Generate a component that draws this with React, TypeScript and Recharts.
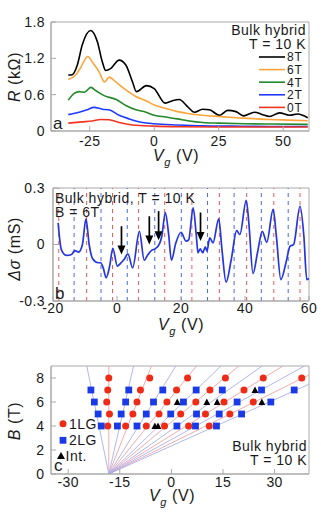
import React from 'react';
import {
  LineChart,
  Line,
  ScatterChart,
  Scatter,
  XAxis,
  YAxis,
  ReferenceArea,
  ReferenceLine,
  Legend,
} from 'recharts';

const FONT = '"Liberation Sans", Arial, Helvetica, sans-serif';
const GRAY = '#a9a9a9';
const INK = '#1a1a1a';
const W = 321;

// ---- panel a: R(Vg) at T = 10 K for several fields ----
const vg8T = [-33.3, -31.8, -29.8, -27.9, -24.6, -22, -20.1, -18.8, -16.9, -13.6, -11, -8.4, -6.9, -3, 0, 4.3, 7.1, 9.7, 13, 15.6, 18.8, 21.4, 25.3, 28.5, 31.7, 34.6, 38.9, 42, 44.7, 48.6, 52.4, 55.6, 59.5];
const r8T = [0.925, 0.93, 1.09, 1.42, 1.66, 1.47, 1.14, 1.0, 1.03, 1.17, 1.09, 0.81, 0.65, 0.75, 0.7, 0.46, 0.5, 0.52, 0.4, 0.31, 0.36, 0.35, 0.26, 0.34, 0.32, 0.25, 0.31, 0.27, 0.24, 0.3, 0.26, 0.28, 0.22];
const vg6T = [-33.3, -30.5, -28.6, -25.7, -24, -21.4, -19.2, -17.5, -14.9, -11, -7.1, -3.2, 0, 4.5, 9, 13, 18.8, 25, 31.7, 38, 44.7, 52, 59.5];
const r6T = [0.85, 0.92, 1.04, 1.23, 1.14, 0.98, 0.81, 0.89, 0.81, 0.68, 0.57, 0.5, 0.43, 0.37, 0.32, 0.29, 0.26, 0.24, 0.22, 0.205, 0.19, 0.18, 0.17];
const vg4T = [-33.3, -31, -29.1, -27, -24.6, -22.4, -19.2, -14.7, -11, -7.1, -3.2, 0, 4.5, 9, 13, 18.8, 25, 35, 45, 59.5];
const r4T = [0.51, 0.62, 0.65, 0.64, 0.72, 0.66, 0.58, 0.52, 0.42, 0.35, 0.31, 0.26, 0.23, 0.2, 0.17, 0.14, 0.13, 0.12, 0.115, 0.11];
const vg2T = [-33.3, -29.1, -26, -23.4, -20.1, -17.5, -13.6, -9.7, -4.5, 0, 9, 18.8, 30, 45, 59.5];
const r2T = [0.27, 0.31, 0.35, 0.39, 0.36, 0.35, 0.26, 0.2, 0.14, 0.12, 0.1, 0.085, 0.08, 0.075, 0.075];
const vg0T = [-33.3, -27.9, -24, -20.8, -17.5, -13.6, -8.4, 0, 10, 25, 40, 59.5];
const r0T = [0.13, 0.15, 0.165, 0.19, 0.185, 0.14, 0.1, 0.08, 0.07, 0.065, 0.065, 0.065];
const fieldLabels = ['8T', '6T', '4T', '2T', '0T'];
const fieldColors = ['#000000', '#ffa43a', '#23892a', '#1f3bff', '#f2331f'];
const vgTicksA = [-25, 0, 25, 50];
const rTicksA = [0, 0.6, 1.2, 1.8];

// ---- panel b: delta sigma at B = 6T ----
const vgB = [-18.4, -17.4, -15.8, -14.2, -13.2, -12, -10.8, -9.7, -8.7, -7.6, -5.9, -5.1, -4.3, -3.4, -2.3, -1.3, 0.1, 1.1, 2.2, 3.4, 4.9, 7, 8.5, 9.7, 10.9, 11.9, 13.3, 14, 15.1, 16.1, 17, 18.4, 20, 21.6, 22.4, 23.8, 24.8, 25.3, 26, 26.8, 27.6, 28.1, 29, 30, 31.8, 32.8, 34.1, 35.7, 37.4, 38.4, 40.4, 41.2, 42.5, 43.9, 45.4, 46.8, 48.8, 49.8, 51.2, 52.8, 54.1, 55.2, 57.2, 58.4, 59.3, 60];
const dSigmaB = [0.115, -0.027, -0.058, -0.053, -0.032, -0.04, 0, 0.136, 0, -0.076, -0.097, -0.097, -0.124, -0.177, -0.115, -0.02, -0.115, -0.1, -0.08, -0.05, -0.124, 0.07, -0.083, -0.053, -0.03, -0.023, 0.005, 0.044, 0.17, 0.06, -0.083, 0.009, 0.065, 0.018, 0.025, 0.195, 0.044, -0.044, -0.023, -0.044, -0.012, -0.035, 0.035, 0.009, 0.136, -0.027, -0.2, -0.08, 0.074, 0.053, 0.235, 0.115, -0.154, -0.044, 0.07, 0.012, 0.186, 0.044, -0.186, -0.097, -0.009, 0, 0.203, 0.044, -0.186, -0.18];
const redMarksB = [-18.2, -9.5, -1.4, 6.7, 14.9, 23.4, 32.0, 40.5, 49.0, 57.2];
const blueMarksB = [-13.4, -5.0, 3.2, 11.8, 20.1, 28.3, 36.6, 45.1, 53.5];
const arrowVg = [1.4, 10.1, 13.0, 26.1];
const arrowTop = [0.097, 0.15, 0.177, 0.17];
const arrowTip = [-0.053, 0, 0.023, 0.018];
const vgTicksB = [-20, 0, 20, 40, 60];
const sTicksB = [-0.3, 0, 0.3];

// ---- panel c: fan diagram ----
const fanOriginVg = -18.2;
const fanRedTopVg = [-18.2, -5.8, 7.3, 19.6, 32.4, 45.3]; // Vg where each line meets B = 9 T
const fanBlueTopVg = [-24.6, -11.0, 1.3, 14.4, 26.4, 38.7, 51.8];
const oneLG_B8 = [-18.2, -6.3, 4.7, 15.7, 26.7, 37.9];
const oneLG_B7 = [-18.5, -9.0, 1.5, 11.2, 21.1];
const oneLG_B6 = [-18.8, -10.0, -1.3, 7.1, 15.3, 23.8];
const oneLG_B5 = [-18.0, -11.2, -3.6, 2.7, 9.9, 17.0];
const oneLG_B4 = [-18.5, -13.3, -7.3, -2.0, 5.0, 11.0];
const twoLG_B7 = [-23.4, -12.4, -2.5, 7.2, 14.8, 26.2, 35.7];
const twoLG_B6 = [-22.4, -13.3, -5.2, 3.5, 19.1, 28.9];
const twoLG_B5 = [-21.3, -14.6, -7.3, -0.2, 7.3, 13.9, 20.4];
const twoLG_B4 = [-20.4, -15.7, -10.0, 1.6, 7.0, 13.1];
const int_B7 = [24.3];
const int_B6 = [1.7, 10.3, 13.3, 26.3];
const int_B4 = [-4.8, -3.9];
const vgTicksC = [-30, -15, 0, 15, 30];
const bTicksC = [0, 2, 4, 6, 8];

const zip = (xs: number[], ys: number[]) => xs.map((v, i) => ({ v, y: ys[i] }));
const rows = (list: [number, number[]][]) =>
  list.flatMap(([b, vs]) => vs.map((v) => ({ v, b })));

const seriesA = [
  zip(vg8T, r8T),
  zip(vg6T, r6T),
  zip(vg4T, r4T),
  zip(vg2T, r2T),
  zip(vg0T, r0T),
];
const dataB = zip(vgB, dSigmaB);
const oneLG = rows([[8, oneLG_B8], [7, oneLG_B7], [6, oneLG_B6], [5, oneLG_B5], [4, oneLG_B4]]);
const twoLG = rows([[7, twoLG_B7], [6, twoLG_B6], [5, twoLG_B5], [4, twoLG_B4]]);
const intPts = rows([[7, int_B7], [6, int_B6], [4, int_B4]]);

const tickStyle = { fontSize: 14, fill: INK, fontFamily: FONT, letterSpacing: 0.4 };

const RED_DOT = '#ee2b16';
const BLUE_SQ = '#1a3ae8';

const Circle = (p: any) => <circle cx={p.cx} cy={p.cy} r={3.5} fill={RED_DOT} />;
const Square = (p: any) => <rect x={p.cx - 3.4} y={p.cy - 3.4} width={6.8} height={6.8} fill={BLUE_SQ} />;
const Tri = (p: any) => (
  <polygon points={`${p.cx - 3.4},${p.cy + 3} ${p.cx + 3.4},${p.cy + 3} ${p.cx},${p.cy - 3.4}`} fill="#000" />
);

const Arrow = (p: any) => {
  const { x1, y1, x2, y2 } = p;
  return (
    <g>
      <line x1={x1} y1={y1} x2={x2} y2={y2 - 7} stroke="#000" strokeWidth={1.7} />
      <polygon points={`${x2 - 4},${y2 - 9} ${x2 + 4},${y2 - 9} ${x2},${y2}`} fill="#000" />
    </g>
  );
};

const LegendA = () => (
  <svg width={60} height={66} style={{ display: 'block', overflow: 'visible' }}>
    {fieldLabels.map((lab, i) => (
      <g key={lab}>
        <line x1={0} x2={26} y1={5 + i * 12.6} y2={5 + i * 12.6} stroke={fieldColors[i]} strokeWidth={1.6} />
        <text x={28} y={5 + i * 12.6} dy="0.36em" fontSize={12} fill={INK} fontFamily={FONT} letterSpacing={0.8}>
          {lab}
        </text>
      </g>
    ))}
  </svg>
);

const LegendC = () => (
  <svg width={60} height={52} style={{ display: 'block', overflow: 'visible' }}>
    <circle cx={7} cy={9.7} r={3.5} fill={RED_DOT} />
    <text x={13} y={9.7} dy="0.36em" fontSize={14} fill={INK} fontFamily={FONT} letterSpacing={0.5}>1LG</text>
    <rect x={3.6} y={22.9} width={6.8} height={6.8} fill={BLUE_SQ} />
    <text x={13} y={26.3} dy="0.36em" fontSize={14} fill={INK} fontFamily={FONT} letterSpacing={0.5}>2LG</text>
    <polygon points="1,45 9,45 5,38" fill="#000" />
    <text x={9.5} y={42} dy="0.36em" fontSize={14} fill={INK} fontFamily={FONT} letterSpacing={0.5}>Int.</text>
  </svg>
);

const VgTitle = ({ x, y }: { x: number; y: number }) => (
  <text x={x} y={y} textAnchor="middle" fontSize={16} letterSpacing={0.6}>
    <tspan fontStyle="italic">V</tspan>
    <tspan fontSize={11} dy={5} fontStyle="italic">g</tspan>
    <tspan dy={-5}>{' (V)'}</tspan>
  </text>
);

export default function App() {
  return (
    <div style={{ position: 'absolute', left: 0, top: 0, width: W, height: 528, background: '#fff', fontFamily: FONT }}>
      {/* panel a */}
      <div style={{ position: 'absolute', left: 0, top: 0 }}>
        <LineChart width={W} height={175} margin={{ top: 22, right: 12, left: 0, bottom: 0 }}>
          <XAxis type="number" dataKey="v" domain={[-40, 60]} ticks={vgTicksA} interval={0} allowDataOverflow
            height={44} tick={tickStyle} tickSize={-5} tickMargin={10} axisLine={{ stroke: GRAY }} tickLine={{ stroke: GRAY }} />
          <YAxis type="number" dataKey="y" domain={[0, 1.8]} ticks={rTicksA} interval={0} allowDataOverflow
            width={51} tick={tickStyle} tickSize={-5} tickMargin={11} axisLine={{ stroke: GRAY }} tickLine={{ stroke: GRAY }} />
          <ReferenceArea x1={-40} x2={60} y1={0} y2={1.8} fill="none" stroke={GRAY} />
          {seriesA.map((d, i) => (
            <Line key={fieldLabels[i]} data={d} dataKey="y" name={fieldLabels[i]} type="monotone"
              stroke={fieldColors[i]} strokeWidth={1.6} dot={false} isAnimationActive={false} />
          ))}
          <Legend layout="horizontal" verticalAlign="middle" align="center" content={() => <LegendA />}
            wrapperStyle={{ left: 259, top: 52, width: 60, height: 66 }} />
        </LineChart>
      </div>

      {/* panel b */}
      <div style={{ position: 'absolute', left: 0, top: 170 }}>
        <LineChart width={W} height={170} margin={{ top: 18, right: 12, left: 0, bottom: 0 }}>
          <XAxis type="number" dataKey="v" domain={[-20, 60]} ticks={vgTicksB} interval={0} allowDataOverflow
            height={39} tick={tickStyle} tickSize={-5} tickMargin={7} axisLine={{ stroke: GRAY }} tickLine={{ stroke: GRAY }} />
          <YAxis type="number" dataKey="y" domain={[-0.3, 0.3]} ticks={sTicksB} interval={0} allowDataOverflow
            width={53} tick={tickStyle} tickSize={-5} tickMargin={13} axisLine={{ stroke: GRAY }} tickLine={{ stroke: GRAY }} />
          <ReferenceArea x1={-20} x2={60} y1={-0.3} y2={0.3} fill="none" stroke={GRAY} />
          {redMarksB.map((v) => (
            <ReferenceLine key={'r' + v} x={v} stroke="#f05a5a" strokeDasharray="4 4" strokeWidth={1} />
          ))}
          {blueMarksB.map((v) => (
            <ReferenceLine key={'b' + v} x={v} stroke="#4a68e6" strokeDasharray="4 4" strokeWidth={1} />
          ))}
          <Line data={dataB} dataKey="y" type="monotone" stroke="#2436dc" strokeWidth={1.7} dot={false} isAnimationActive={false} />
          {arrowVg.map((v, i) => (
            <ReferenceLine key={'a' + v} segment={[{ x: v, y: arrowTop[i] }, { x: v, y: arrowTip[i] }]} shape={Arrow} />
          ))}
        </LineChart>
      </div>

      {/* panel c */}
      <div style={{ position: 'absolute', left: 0, top: 345 }}>
        <ScatterChart width={W} height={183} margin={{ top: 21, right: 12, left: 0, bottom: 0 }}>
          <XAxis type="number" dataKey="v" domain={[-35, 40]} ticks={vgTicksC} interval={0} allowDataOverflow
            height={54} tick={tickStyle} tickSize={-5} tickMargin={8} axisLine={{ stroke: GRAY }} tickLine={{ stroke: GRAY }} />
          <YAxis type="number" dataKey="b" domain={[0, 9]} ticks={bTicksC} interval={0} allowDataOverflow
            width={51} tick={tickStyle} tickSize={-5} tickMargin={11.5} axisLine={{ stroke: GRAY }} tickLine={{ stroke: GRAY }} />
          <ReferenceArea x1={-35} x2={40} y1={0} y2={9} fill="none" stroke={GRAY} />
          {fanRedTopVg.map((v) => (
            <ReferenceLine key={'fr' + v} segment={[{ x: fanOriginVg, y: 0 }, { x: v, y: 9 }]}
              stroke="#f3a2a2" strokeWidth={0.9} ifOverflow="hidden" />
          ))}
          {fanBlueTopVg.map((v) => (
            <ReferenceLine key={'fb' + v} segment={[{ x: fanOriginVg, y: 0 }, { x: v, y: 9 }]}
              stroke="#a7afef" strokeWidth={0.9} ifOverflow="hidden" />
          ))}
          <Scatter name="1LG" data={oneLG} shape={Circle} isAnimationActive={false} />
          <Scatter name="2LG" data={twoLG} shape={Square} isAnimationActive={false} />
          <Scatter name="Int." data={intPts} shape={Tri} isAnimationActive={false} />
          <Legend layout="horizontal" verticalAlign="middle" align="center" content={() => <LegendC />}
            wrapperStyle={{ left: 56, top: 69, width: 60, height: 52 }} />
        </ScatterChart>
      </div>

      {/* titles and annotations */}
      <svg width={W} height={528} style={{ position: 'absolute', left: 0, top: 0, pointerEvents: 'none' }}
        fontFamily={FONT} fill={INK}>
        {/* a */}
        <text transform="translate(14,77) rotate(-90)" textAnchor="middle" dy="0.36em" fontSize={16} letterSpacing={0.6}>
          <tspan fontStyle="italic">R</tspan>{' (kΩ)'}
        </text>
        <VgTitle x={176} y={161} />
        <text x={306} y={35} textAnchor="end" fontSize={14} letterSpacing={0.5}>Bulk hybrid</text>
        <text x={306} y={48.5} textAnchor="end" fontSize={14} letterSpacing={0.5}>T = 10 K</text>
        <text x={53} y={129} fontSize={17}>a</text>

        {/* b */}
        <text transform="translate(14,249) rotate(-90)" textAnchor="middle" dy="0.36em" fontSize={16} letterSpacing={0.6}>
          <tspan fontStyle="italic">Δσ</tspan>{' (mS)'}
        </text>
        <VgTitle x={181} y={330} />
        <text x={55} y={202.5} fontSize={14} letterSpacing={0.5}>Bulk hybrid, T = 10 K</text>
        <text x={55} y={216.5} fontSize={14} letterSpacing={0.5}>B = 6T</text>
        <text x={55} y={298.5} fontSize={17}>b</text>

        {/* c */}
        <text transform="translate(14,421) rotate(-90)" textAnchor="middle" dy="0.36em" fontSize={16} letterSpacing={0.6}>
          <tspan fontStyle="italic">B</tspan>{' (T)'}
        </text>
        <VgTitle x={172} y={501} />
        <text x={307} y={451} textAnchor="end" fontSize={14} letterSpacing={0.5}>Bulk hybrid</text>
        <text x={307} y={465} textAnchor="end" fontSize={14} letterSpacing={0.5}>T = 10 K</text>
        <text x={54} y={471} fontSize={17}>c</text>
      </svg>
    </div>
  );
}
